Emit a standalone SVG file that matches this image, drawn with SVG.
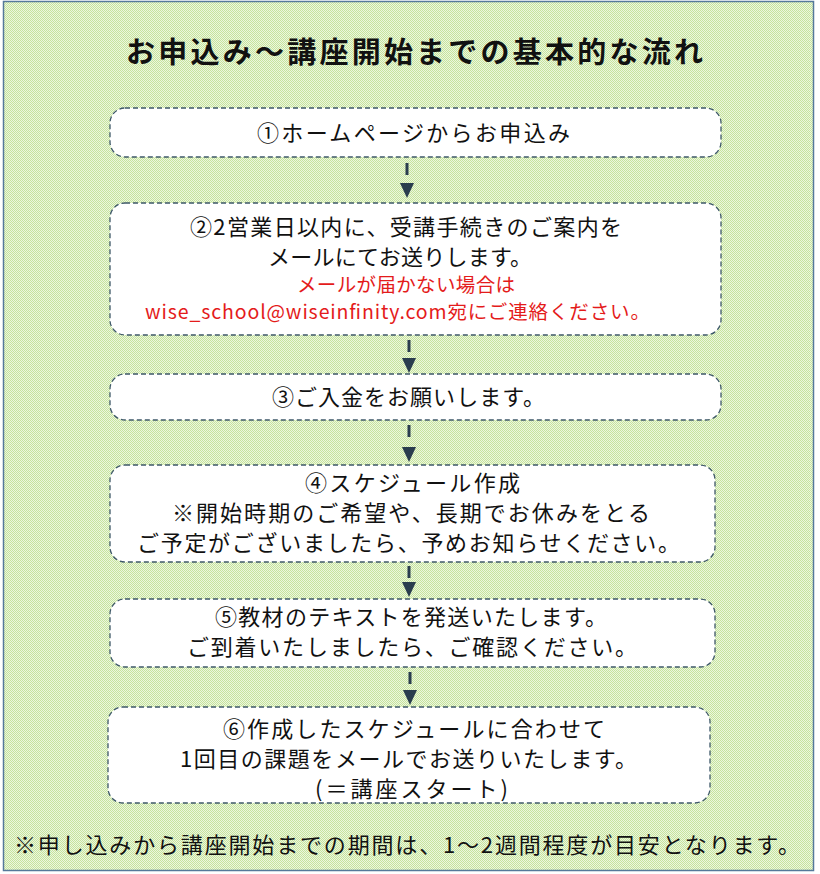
<svg xmlns="http://www.w3.org/2000/svg" width="820" height="874" viewBox="0 0 820 874">
<defs>
<pattern id="chk" width="2" height="2" patternUnits="userSpaceOnUse">
<rect width="2" height="2" fill="#ecf7de"/>
<rect width="1" height="1" fill="#c6e39d"/>
<rect x="1" y="1" width="1" height="1" fill="#c6e39d"/>
</pattern>
<marker id="head" markerWidth="16" markerHeight="16" refX="15" refY="7" orient="auto" markerUnits="userSpaceOnUse">
<path d="M0,0 L15,7 L0,14 Z" fill="#2a3d4e"/>
</marker>
<style>
.box{fill:#ffffff;stroke:#3e5868;stroke-width:1.3;stroke-dasharray:5 3}
.t{font-family:"Noto Sans CJK JP","Noto Sans",sans-serif;font-size:22px;fill:#111111}
.r{font-family:"Noto Sans CJK JP","Noto Sans",sans-serif;font-size:19.5px;fill:#e41b1b}
.title{font-family:"Noto Sans CJK JP","Noto Sans",sans-serif;font-size:29px;font-weight:bold;fill:#111111}
.arr{stroke:#2a3d4e;stroke-width:3;stroke-dasharray:12 60;fill:none}
</style>
</defs>
<rect x="3.5" y="1.5" width="810" height="869" fill="url(#chk)" stroke="#55799a" stroke-width="1.5"/>
<g id="title">
<text class="title" x="126" y="63" textLength="577">お申込み～講座開始までの基本的な流れ</text>
</g>
<g id="step1">
<rect class="box" x="110" y="108" width="611" height="49" rx="15"/>
<text class="t" x="257" y="141" textLength="313">①ホームページからお申込み</text>
</g>
<g id="step2">
<rect class="box" x="110" y="203" width="611" height="132" rx="15"/>
<text class="t" x="190" y="235" textLength="432">②2営業日以内に、受講手続きのご案内を</text>
<text class="t" x="268" y="265" textLength="264">メールにてお送りします。</text>
<text class="r" x="297" y="292" textLength="218">メールが届かない場合は</text>
<text class="r" x="145" y="319" textLength="505">wise_school@wiseinfinity.com宛にご連絡ください。</text>
</g>
<g id="step3">
<rect class="box" x="110" y="374" width="611" height="46" rx="15"/>
<text class="t" x="272" y="405" textLength="273">③ご入金をお願いします。</text>
</g>
<g id="step4">
<rect class="box" x="110" y="465" width="605" height="97" rx="15"/>
<text class="t" x="305" y="491" textLength="215">④スケジュール作成</text>
<text class="t" x="172" y="521" textLength="478">※開始時期のご希望や、長期でお休みをとる</text>
<text class="t" x="137" y="551" textLength="543">ご予定がございましたら、予めお知らせください。</text>
</g>
<g id="step5">
<rect class="box" x="110" y="599" width="605" height="68" rx="15"/>
<text class="t" x="215" y="625" textLength="392">⑤教材のテキストを発送いたします。</text>
<text class="t" x="187" y="655" textLength="450">ご到着いたしましたら、ご確認ください。</text>
</g>
<g id="step6">
<rect class="box" x="108" y="707" width="602" height="96" rx="15"/>
<text class="t" x="223" y="737" textLength="382">⑥作成したスケジュールに合わせて</text>
<text class="t" x="180" y="767" textLength="457">1回目の課題をメールでお送りいたします。</text>
<text class="t" x="315" y="797" textLength="193">(＝講座スタート)</text>
</g>
<g id="note">
<text class="t" x="14" y="853" textLength="786">※申し込みから講座開始までの期間は、1～2週間程度が目安となります。</text>
</g>
<g id="connectors">
<line class="arr" x1="407" y1="163" x2="407" y2="198" marker-end="url(#head)"/>
<line class="arr" x1="409" y1="340" x2="409" y2="373" marker-end="url(#head)"/>
<line class="arr" x1="409" y1="425" x2="409" y2="462" marker-end="url(#head)"/>
<line class="arr" x1="409" y1="566" x2="409" y2="597" marker-end="url(#head)"/>
<line class="arr" x1="410" y1="672" x2="410" y2="705" marker-end="url(#head)"/>
</g>
</svg>
